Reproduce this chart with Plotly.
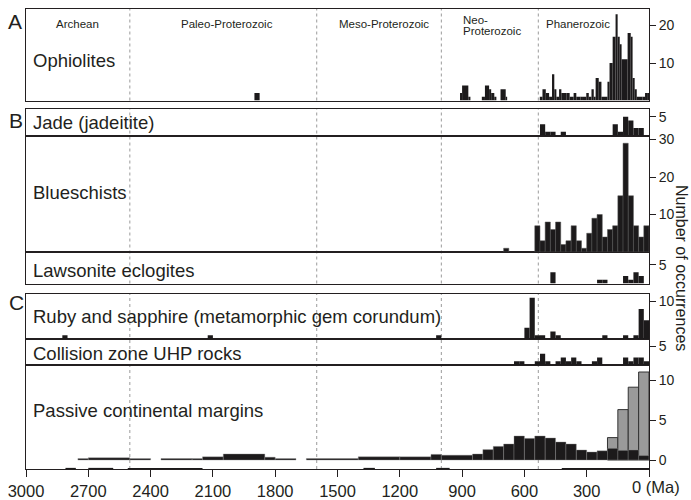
import plotly.graph_objects as go

FONT = "Liberation Sans, Arial, Helvetica, sans-serif"
INK = "#231f20"
BAR = "#1c1a1b"

# ---------------- data (age bins in Ma: start = older edge, end = younger edge) -------------
OPH_START = [1900, 910, 900, 870, 805, 790, 770, 760, 745, 715, 690,
             526, 513, 497, 481, 467, 456, 446, 433, 422, 398, 382, 363, 350, 330, 318,
             302, 290, 277, 266, 257, 242, 229, 200, 190, 175, 161, 151, 141, 132, 103,
             88, 79, 69, 59, 32, 19, 9]
OPH_END = [1875, 900, 870, 860, 790, 770, 760, 745, 735, 690, 683,
           513, 497, 481, 467, 456, 446, 433, 422, 398, 382, 363, 350, 330, 318, 302,
           290, 277, 266, 257, 242, 229, 200, 190, 175, 161, 151, 141, 132, 103, 88,
           79, 69, 59, 32, 19, 9, 0]
OPH_COUNT = [2, 2, 4, 1, 1, 4, 3, 2, 1, 3, 1,
             1, 3, 2, 1, 7, 3, 1, 3, 2, 2, 1, 2, 1, 1, 1,
             2, 1, 3, 1, 6, 5, 1, 5, 10, 17, 23, 17, 15, 11, 18,
             17, 6, 3, 1, 1, 2, 2]

JADE_START = [525, 500, 475, 425, 175, 150, 125, 100, 75, 50]
JADE_END = [500, 475, 450, 400, 150, 125, 100, 75, 50, 25]
JADE_COUNT = [3, 1, 1, 1, 3, 1, 5, 4, 2, 2]

BLUE_START = [700, 550, 525, 500, 475, 450, 425, 400, 375, 350, 325, 300, 275,
              250, 225, 200, 175, 150, 125, 100, 75, 50, 25]
BLUE_END = [675, 525, 500, 475, 450, 425, 400, 375, 350, 325, 300, 275, 250,
            225, 200, 175, 150, 125, 100, 75, 50, 25, 0]
BLUE_COUNT = [1, 7, 3, 8, 6, 8, 2, 3, 7, 3, 1, 5, 9,
              10, 4, 6, 7, 15, 29, 15, 7, 4, 7]

LAWS_START = [475, 250, 225, 125, 100, 75, 50]
LAWS_END = [450, 225, 200, 100, 75, 50, 25]
LAWS_COUNT = [3, 1, 1, 2, 1, 3, 2]

RUBY_START = [2825, 2125, 1025, 600, 575, 550, 525, 475, 450, 225, 125, 75, 50, 25]
RUBY_END = [2800, 2100, 1000, 575, 550, 525, 500, 450, 425, 200, 100, 50, 25, 0]
RUBY_COUNT = [1, 1, 1, 3, 11, 1, 1, 2, 1, 1, 1, 1, 8, 5]

UHP_START = [650, 625, 550, 525, 500, 450, 425, 400, 375, 350, 275, 250, 125, 100, 75, 50, 25]
UHP_END = [625, 600, 525, 500, 475, 425, 400, 375, 350, 325, 250, 225, 100, 75, 50, 25, 0]
UHP_COUNT = [1, 1, 1, 3, 1, 1, 2, 1, 2, 1, 1, 2, 2, 1, 2, 2, 1]

PASS_START = [2750, 2700, 2500, 2350, 2200, 2150, 2050, 1850, 1800, 1650, 1400, 1200,
              1050, 1000, 850, 800, 750, 700, 650, 600, 550, 500, 450, 400, 350, 300,
              250, 200, 150, 100, 50]
PASS_END = [2700, 2500, 2400, 2200, 2150, 2050, 1850, 1800, 1700, 1400, 1200, 1050,
            1000, 850, 800, 750, 700, 650, 600, 550, 500, 450, 400, 350, 300, 250,
            200, 150, 100, 50, 0]
PASS_COUNT = [0.18, 0.28, 0.18, 0.18, 0.18, 0.4, 0.75, 0.35, 0.18, 0.18, 0.4, 0.4,
              0.7, 0.6, 0.75, 1.3, 1.7, 2.0, 3.0, 2.7, 3.0, 2.75, 2.25, 2.0, 1.25, 1.0,
              1.15, 1.45, 1.2, 1.25, 0.55]

MODERN_START = [200, 150, 100, 50]
MODERN_END = [150, 100, 50, 0]
MODERN_COUNT = [2.8, 6.3, 9.1, 11.0]

LOW_START = [2810, 2700, 2510, 1375, 1025, 420]
LOW_END = [2760, 2580, 2150, 1320, 960, 0]
LOW_HEIGHT = [0.14, 0.14, 0.14, 0.14, 0.14, 0.14]

ERA_BOUNDS = [2500, 1600, 1000, 533]
X_TICKS = [3000, 2700, 2400, 2100, 1800, 1500, 1200, 900, 600, 300, 0]
X_TICKTEXT = ["3000", "2700", "2400", "2100", "1800", "1500", "1200", "900", "600", "300", ""]

# ---------------- layout geometry (pixels) ----------------
W, H = 691, 500
ML, MR, MT, MB = 26, 42, 9, 31
PH = H - MT - MB


def dom(top_px, bot_px):
    return [(H - MB - bot_px) / PH, (H - MB - top_px) / PH]


def py(px):
    return (H - MB - px) / PH


def px_x(px):
    return (px - ML) / (W - ML - MR)


PANELS = [
    # name, axis suffix, top px, bottom px, y range, ticks
    ("pass", "", 365, 469, [-1.125, 11.875], [0, 5, 10]),
    ("uhp", "2", 339, 365, [0, 6.93], [5]),
    ("ruby", "3", 294, 339, [0, 12.0], [10]),
    ("laws", "4", 252, 283.5, [0, 8.4], [5]),
    ("blue", "5", 135.5, 252, [0, 31.07], [10, 20, 30]),
    ("jade", "6", 109, 135.5, [0, 7.07], [5]),
    ("oph", "7", 9, 100.5, [0, 24.4], [10, 20]),
]


def bars(start, end, val, suf, color, lc=None, lw=0, base=None):
    x = [(s + e) / 2 for s, e in zip(start, end)]
    w = [s - e for s, e in zip(start, end)]
    return go.Bar(x=x, y=val, width=w, base=base,
                  xaxis="x" + suf, yaxis="y" + suf,
                  marker=dict(color=color, line=dict(color=lc or color, width=lw)),
                  showlegend=False, hoverinfo="skip")


fig = go.Figure()
fig.add_trace(bars(OPH_START, OPH_END, OPH_COUNT, "7", BAR))
fig.add_trace(bars(JADE_START, JADE_END, JADE_COUNT, "6", BAR))
fig.add_trace(bars(BLUE_START, BLUE_END, BLUE_COUNT, "5", BAR, "#555", 0.5))
fig.add_trace(bars(LAWS_START, LAWS_END, LAWS_COUNT, "4", BAR))
fig.add_trace(bars(RUBY_START, RUBY_END, RUBY_COUNT, "3", BAR))
fig.add_trace(bars(UHP_START, UHP_END, UHP_COUNT, "2", BAR))
fig.add_trace(bars(MODERN_START, MODERN_END, MODERN_COUNT, "", "#9a9a9a", "#333", 1))
fig.add_trace(bars(PASS_START, PASS_END, PASS_COUNT, "", BAR, "#8a8a8a", 0.4))
fig.add_trace(bars(LOW_START, LOW_END, LOW_HEIGHT, "", BAR, base=[-1.125] * len(LOW_START)))

layout = dict(
    width=W, height=H,
    margin=dict(l=ML, r=MR, t=MT, b=MB, pad=0, autoexpand=False),
    paper_bgcolor="white", plot_bgcolor="white",
    barmode="overlay",
    font=dict(family=FONT, color=INK),
)

for name, suf, top, bot, yr, yt in PANELS:
    xk = "xaxis" + suf
    yk = "yaxis" + suf
    xa = dict(domain=[0, 1], anchor="y" + suf, range=[3000, 0], automargin=False,
              showline=True, mirror=True, linecolor=INK, linewidth=1,
              showgrid=False, zeroline=False)
    if suf == "":
        xa.update(tickmode="array", tickvals=X_TICKS, ticktext=X_TICKTEXT,
                  ticks="outside", ticklen=7, tickwidth=1, tickcolor=INK,
                  tickfont=dict(size=16.5, family=FONT, color=INK))
    else:
        xa.update(matches="x", showticklabels=False, ticks="")
    layout[xk] = xa
    layout[yk] = dict(domain=dom(top, bot), anchor="x" + suf, side="right",
                      range=yr, tickmode="array", tickvals=yt, automargin=False,
                      ticks="outside", ticklen=6, tickwidth=1, tickcolor=INK,
                      showline=True, mirror=True, linecolor=INK, linewidth=1,
                      showgrid=False, zeroline=False,
                      tickfont=dict(size=14, family=FONT, color=INK))

# era boundary dashed lines per panel group
groups = [dom(9, 100.5), dom(109, 283.5), dom(294, 469)]
shapes = []
for b in ERA_BOUNDS:
    for g in groups:
        shapes.append(dict(type="line", xref="x", yref="paper", x0=b, x1=b,
                           y0=g[0], y1=g[1], layer="below",
                           line=dict(color="#9a9a9a", width=1, dash="3px,3px")))
layout["shapes"] = shapes

ann = []


def text(t, x, y, size, xref="paper", xanchor="left", **kw):
    d = dict(text=t, x=x, y=y, xref=xref, yref="paper", xanchor=xanchor,
             yanchor="middle", showarrow=False,
             font=dict(size=size, family=FONT, color=INK))
    d.update(kw)
    ann.append(d)


# panel titles
for t, ypx in [("Ophiolites", 60), ("Jade (jadeitite)", 122), ("Blueschists", 192),
               ("Lawsonite eclogites", 270),
               ("Ruby and sapphire (metamorphic gem corundum)", 316),
               ("Collision zone UHP rocks", 353), ("Passive continental margins", 410)]:
    text(t, px_x(31), py(ypx), 18.5)

# panel letters
for t, xpx, ypx in [("A", 15, 22), ("B", 16, 120), ("C", 16, 302)]:
    text(t, px_x(xpx), py(ypx), 21, xanchor="center")

# era labels
text("Archean", 2750, py(24), 11.5, xref="x7", xanchor="center")
text("Paleo-Proterozoic", 2032, py(24), 11.5, xref="x7", xanchor="center")
text("Meso-Proterozoic", 1277, py(24), 11.5, xref="x7", xanchor="center")
text("Neo-", 903, py(20), 11.5, xref="x7")
text("Proterozoic", 903, py(31.5), 11.5, xref="x7")
text("Phanerozoic", 340, py(24), 11.5, xref="x7", xanchor="center")

# axis texts
text("0 (Ma)", 0, py(487), 16.5, xref="x", xanchor="center", xshift=7)
text("Number of occurrences", px_x(682), py(268), 16, xanchor="center", textangle=90)

layout["annotations"] = ann
fig.update_layout(**layout)
fig.write_html("out.html",
               config={"displayModeBar": False, "staticPlot": True},
               post_script="document.body.style.margin='0px';"
                           "document.body.style.overflow='hidden';")
